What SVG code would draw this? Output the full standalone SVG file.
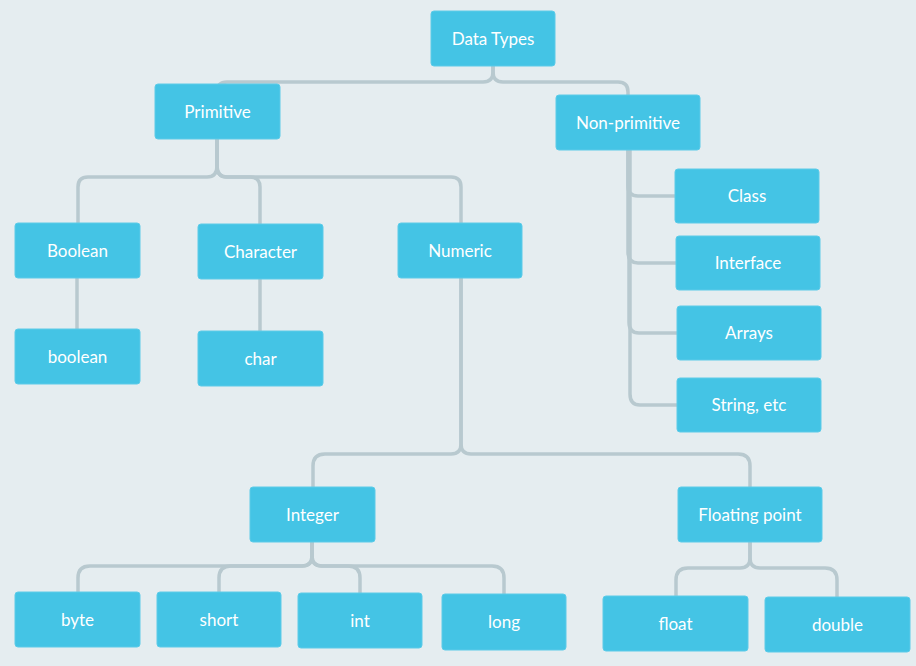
<svg xmlns="http://www.w3.org/2000/svg" width="916" height="666" viewBox="0 0 916 666">
<style>
.bg{fill:#E5EDF0}
.node rect{fill:#44C4E5;stroke:#5CCBE8;stroke-width:1}
.node text{fill:#FFFFFF;font-family:Lato,"Liberation Sans",sans-serif;font-size:17px;text-anchor:middle}
.conn path{fill:none;stroke:#B8C9CF;stroke-width:3.5;stroke-linecap:round;stroke-linejoin:round}
</style>
<rect class="bg" x="0" y="0" width="916" height="666"/>
<g id="connectors" class="conn">
<path d="M493,66 V72 Q493,82 483,82 H227 Q217,82 217,92"/>
<path d="M493,66 V72 Q493,82 503,82 H618 Q628,82 628,92 V95"/>
<path d="M217,139 V166 Q217,177 207,177 H88 Q78,177 78,187 V223"/>
<path d="M217,139 V166 Q217,177 227,177 H250 Q260,177 260,187 V224"/>
<path d="M217,139 V166 Q217,177 227,177 H451 Q461,177 461,187 V223"/>
<path d="M77,278 V329"/>
<path d="M260,279 V331"/>
<path d="M628,150 V186 Q628,196 638,196 H675"/>
<path d="M628,150 V252 Q628,263 638,263 H676"/>
<path d="M629,150 V322 Q629,333 639,333 H677"/>
<path d="M630,150 V394 Q630,405 640,405 H677"/>
<path d="M461,278 V444 Q461,454 451,454 H325 Q313,454 313,466 V487"/>
<path d="M461,278 V444 Q461,454 471,454 H738 Q750,454 750,466 V487"/>
<path d="M312,542 V556 Q312,566 302,566 H90 Q78,566 78,578 V592"/>
<path d="M312,542 V556 Q312,566 302,566 H231 Q219,566 219,578 V592"/>
<path d="M312,542 V556 Q312,566 322,566 H348 Q360,566 360,578 V593"/>
<path d="M312,542 V556 Q312,566 322,566 H492 Q504,566 504,578 V594"/>
<path d="M750,542 V558 Q750,568 740,568 H688 Q676,568 676,580 V596"/>
<path d="M750,542 V558 Q750,568 760,568 H825 Q837,568 837,580 V597"/>
</g>
<g id="data-types" class="node"><rect x="431" y="11" width="124" height="55" rx="3"/><text x="493" y="44.5">Data Types</text></g>
<g id="primitive" class="node"><rect x="155" y="84" width="125" height="55" rx="3"/><text x="217.5" y="117.5">Primitive</text></g>
<g id="non-primitive" class="node"><rect x="556" y="95" width="144" height="55" rx="3"/><text x="628" y="128.5">Non-primitive</text></g>
<g id="boolean-cat" class="node"><rect x="15" y="223" width="125" height="55" rx="3"/><text x="77.5" y="256.5">Boolean</text></g>
<g id="character" class="node"><rect x="198" y="224" width="125" height="55" rx="3"/><text x="260.5" y="257.5">Character</text></g>
<g id="numeric" class="node"><rect x="398" y="223" width="124" height="55" rx="3"/><text x="460" y="256.5">Numeric</text></g>
<g id="boolean" class="node"><rect x="15" y="329" width="125" height="55" rx="3"/><text x="77.5" y="362.5">boolean</text></g>
<g id="char" class="node"><rect x="198" y="331" width="125" height="55" rx="3"/><text x="260.5" y="364.5">char</text></g>
<g id="class" class="node"><rect x="675" y="169" width="144" height="54" rx="3"/><text x="747" y="202">Class</text></g>
<g id="interface" class="node"><rect x="676" y="236" width="144" height="54" rx="3"/><text x="748" y="269">Interface</text></g>
<g id="arrays" class="node"><rect x="677" y="306" width="144" height="54" rx="3"/><text x="749" y="339">Arrays</text></g>
<g id="string" class="node"><rect x="677" y="378" width="144" height="54" rx="3"/><text x="749" y="411">String, etc</text></g>
<g id="integer" class="node"><rect x="250" y="487" width="125" height="55" rx="3"/><text x="312.5" y="520.5">Integer</text></g>
<g id="floating-point" class="node"><rect x="678" y="487" width="144" height="55" rx="3"/><text x="750" y="520.5">Floating point</text></g>
<g id="byte" class="node"><rect x="15" y="592" width="125" height="55" rx="3"/><text x="77.5" y="625.5">byte</text></g>
<g id="short" class="node"><rect x="157" y="592" width="124" height="55" rx="3"/><text x="219" y="625.5">short</text></g>
<g id="int" class="node"><rect x="298" y="593" width="124" height="55" rx="3"/><text x="360" y="626.5">int</text></g>
<g id="long" class="node"><rect x="442" y="594" width="124" height="56" rx="3"/><text x="504" y="628">long</text></g>
<g id="float" class="node"><rect x="603" y="596" width="145" height="55" rx="3"/><text x="675.5" y="629.5">float</text></g>
<g id="double" class="node"><rect x="765" y="597" width="145" height="55" rx="3"/><text x="837.5" y="630.5">double</text></g>
</svg>
